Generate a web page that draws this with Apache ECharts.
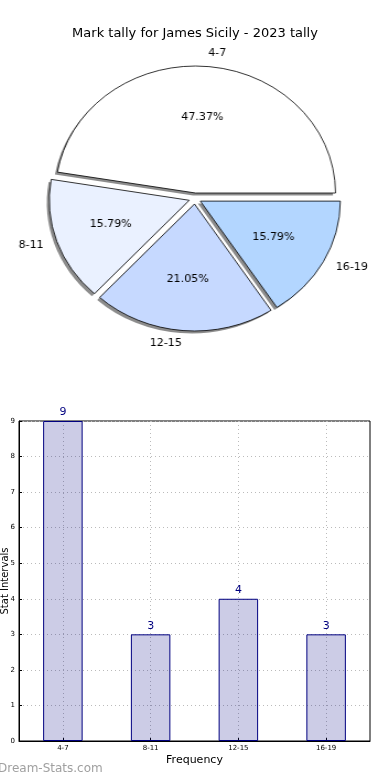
<!DOCTYPE html>
<html>
<head>
<meta charset="utf-8">
<script src="https://cdn.jsdelivr.net/npm/echarts@6/dist/echarts.min.js"></script>
<style>
html,body{margin:0;padding:0;background:#fff;}
#main{position:absolute;left:0;top:0;width:390px;height:780px;}
#pie{position:absolute;left:0;top:0;width:390px;height:390px;transform-origin:195px 198.5px;transform:scaleX(1.1024);}
</style>
</head>
<body>
<div id="main"></div>
<div id="pie"></div>
<script>
// ---- data ----
const titleText = 'Mark tally for James Sicily - 2023 tally';
const categories = ['4-7', '8-11', '12-15', '16-19'];
const tallies = [9, 3, 4, 3];
const yTicks = [0, 1, 2, 3, 4, 5, 6, 7, 8, 9];
const sliceColors = ['#ffffff', '#eaf1ff', '#c6d9ff', '#b3d6ff'];

const FONT = 'DejaVu Sans';

// ---- bar chart + title ----
const main = echarts.init(document.getElementById('main'), null, {renderer: 'canvas'});
main.setOption({
  animation: false,
  backgroundColor: '#ffffff',
  textStyle: {fontFamily: FONT},
  title: {
    text: titleText, left: 'center', top: 22,
    textStyle: {fontSize: 13, fontWeight: 'normal', color: '#000', fontFamily: FONT}
  },
  grid: {left: 19, right: 20, top: 421, bottom: 39, containLabel: false, outerBoundsMode: 'none',
    show: true, borderColor: '#000', borderWidth: 1, backgroundColor: 'transparent'},
  xAxis: {
    type: 'category', data: categories,
    name: 'Frequency', nameLocation: 'middle', nameGap: 14, nameMoveOverlap: false,
    nameTextStyle: {fontSize: 11, color: '#000', fontFamily: FONT},
    axisLine: {lineStyle: {color: '#000'}},
    axisTick: {show: true, alignWithLabel: true, inside: true, length: 3, lineStyle: {color: '#000'}},
    axisLabel: {fontSize: 7, color: '#000', margin: 4, fontFamily: FONT},
    splitLine: {show: true, alignWithLabel: true, lineStyle: {color: '#bbbbbb', type: [1, 3], width: 1}}
  },
  yAxis: {
    type: 'value', min: yTicks[0], max: yTicks[yTicks.length - 1], interval: 1,
    name: 'Stat Intervals', nameLocation: 'middle', nameGap: 9, nameRotate: 90, nameMoveOverlap: false,
    nameTextStyle: {fontSize: 10, color: '#000', fontFamily: FONT},
    axisLine: {show: true, lineStyle: {color: '#000'}},
    axisTick: {show: true, inside: true, length: 3, lineStyle: {color: '#000'}},
    axisLabel: {fontSize: 7, color: '#000', margin: 4, fontFamily: FONT},
    splitLine: {show: true, lineStyle: {color: '#bbbbbb', type: [1, 3], width: 1}}
  },
  graphic: [{
    type: 'text', left: -2, top: 763,
    style: {text: 'Dream-Stats.com', fontSize: 12, fontFamily: FONT, fill: '#a0a0a0'}
  }],
  series: [{
    type: 'bar', data: tallies, barWidth: '45%',
    itemStyle: {color: 'rgba(0,0,128,0.2)', borderColor: '#000080', borderWidth: 1},
    label: {show: true, position: 'top', distance: 3, color: '#000080', fontSize: 11, fontFamily: FONT},
    emphasis: {disabled: true}
  }]
});

// ---- pie ----
const pie = echarts.init(document.getElementById('pie'), null, {renderer: 'canvas'});
const R = 127;
const CX = 195, CY = 198.5, OFF = 5.5;
const pieData = categories.map((c, i) => ({
  name: c, value: tallies[i], selected: true,
  itemStyle: {color: sliceColors[i]}
}));
const plainData = categories.map((c, i) => ({name: c, value: tallies[i], selected: true}));
const common = {
  type: 'pie', startAngle: 0, clockwise: false,
  selectedMode: 'multiple', selectedOffset: OFF,
  avoidLabelOverlap: false, emphasis: {disabled: true}
};
pie.setOption({
  animation: false,
  series: [Object.assign({}, common, {
    // shadow
    center: [CX - 2.3, CY + 2.5], radius: [0, R], silent: true, z: 1,
    data: plainData,
    itemStyle: {color: 'rgba(0,0,0,0.45)', borderWidth: 0},
    select: {itemStyle: {color: 'rgba(0,0,0,0.45)', borderWidth: 0}},
    label: {show: false}, labelLine: {show: false}
  }), Object.assign({}, common, {
    center: [CX, CY], radius: [0, R], z: 2,
    data: pieData,
    itemStyle: {borderColor: '#000', borderWidth: 0.8},
    label: {show: true, position: 'outside', formatter: '{b}', fontSize: 10, color: '#000', fontFamily: FONT, distanceToLabelLine: 0},
    labelLine: {show: false, length: 0.1 * R, length2: 0},
    select: {itemStyle: {borderColor: '#000', borderWidth: 0.8}}
  }), Object.assign({}, common, {
    center: [CX, CY], radius: [0, 1.14 * R], silent: true, z: 3,
    data: plainData,
    itemStyle: {color: 'rgba(0,0,0,0)', borderWidth: 0},
    label: {show: true, position: 'inside', formatter: '{d}%', fontSize: 10, color: '#000', fontFamily: FONT},
    labelLine: {show: false},
    select: {itemStyle: {color: 'rgba(0,0,0,0)', borderWidth: 0}}
  })]
});
</script>
</body>
</html>
